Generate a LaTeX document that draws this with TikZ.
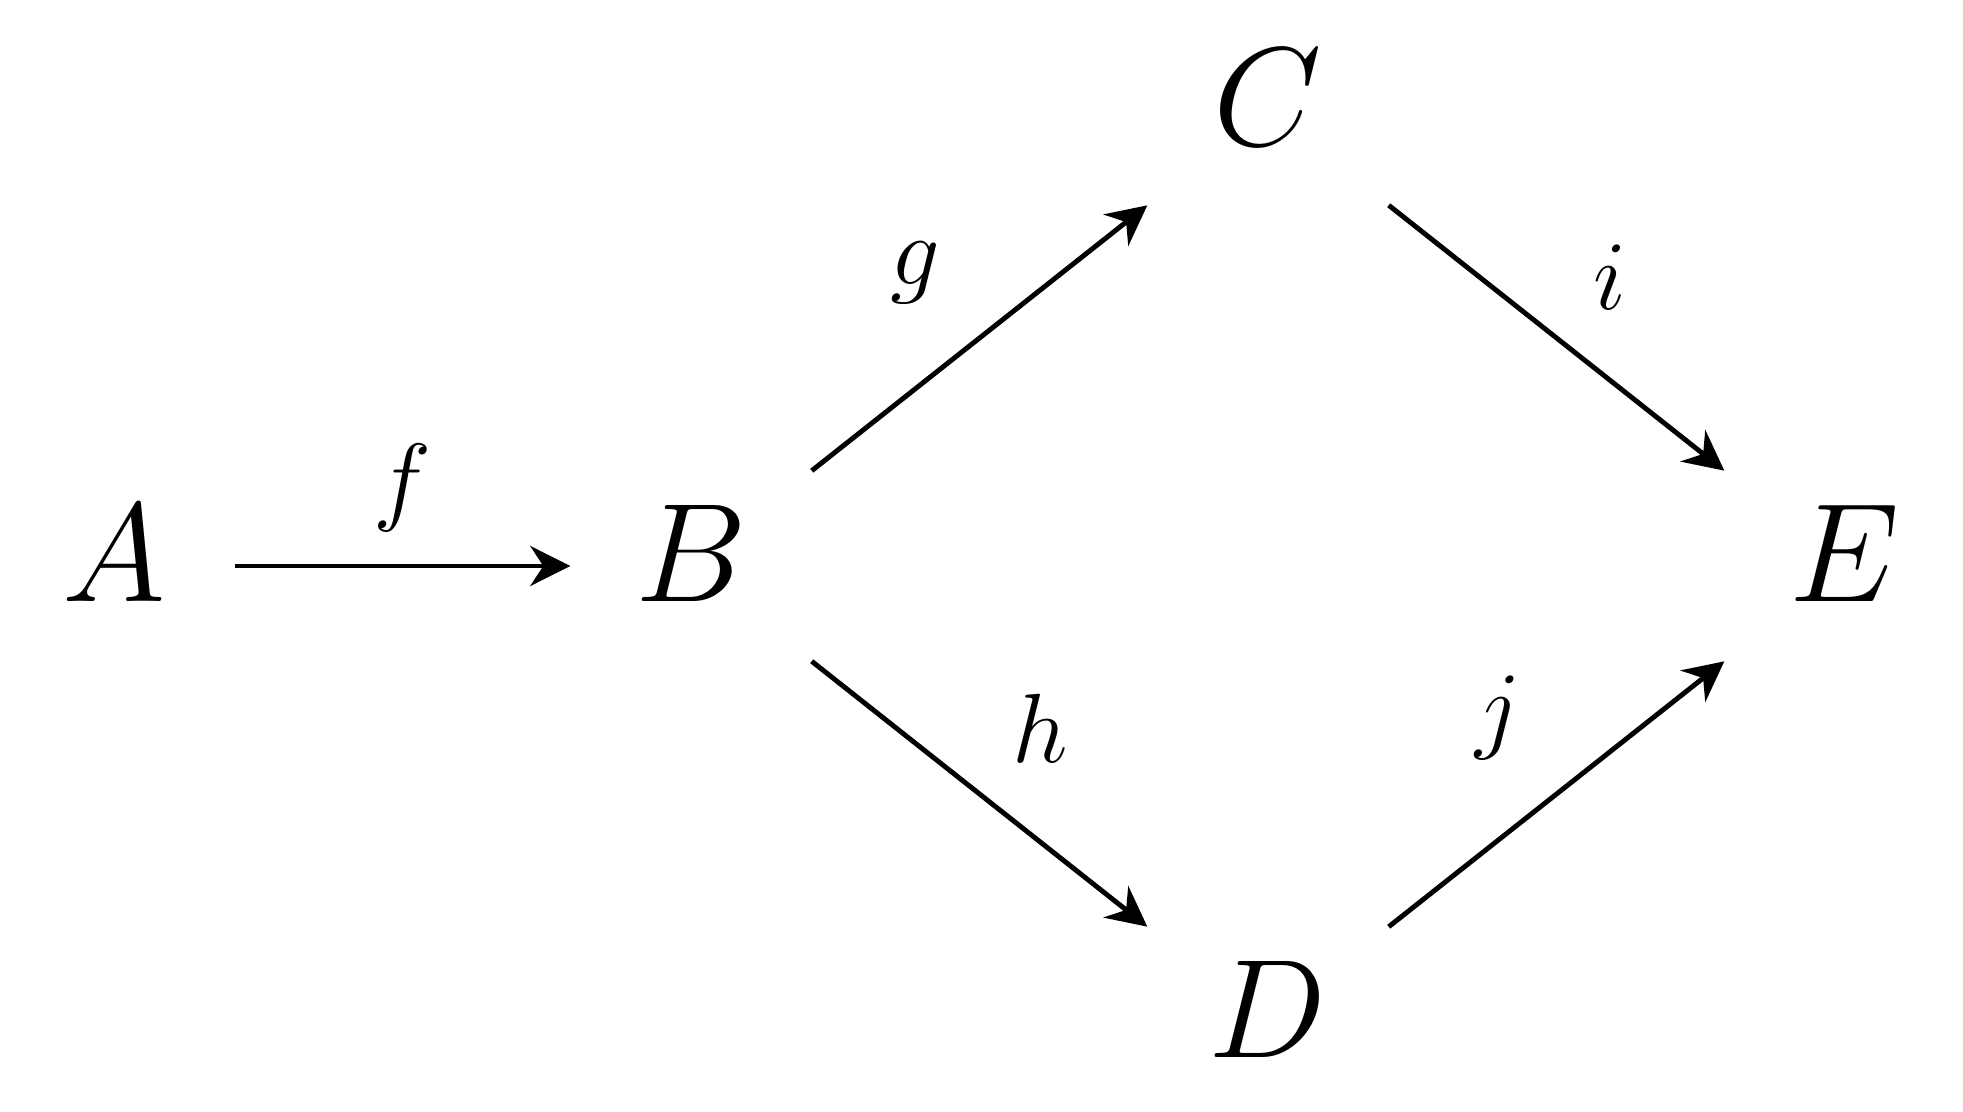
\RequirePackage{fix-cm}
\documentclass[tikz,border=0pt]{standalone}
\usetikzlibrary{matrix}
\usetikzlibrary{arrows.meta}

\begin{document}
\begin{tikzpicture}[
  >={Stealth[length=4mm, width=4mm]},
  map/.style={->, line width=1.4pt},
  lbl/.style={font=\fontsize{28}{34}\selectfont, inner sep=0pt}
]

  \useasboundingbox (0,0) rectangle (19.63,11.11);

  \matrix (grid) [matrix of math nodes, column sep=3.37cm, row sep=2.46cm,
    nodes={inner sep=0pt, minimum width=2.4cm, text height=1.4cm, text depth=0.7cm,
      font=\fontsize{40}{48}\selectfont}] at (9.795,5.45)
  {
      &          & C &   \\
    A &[-0.06cm] B &[0.04cm] & E \\
      &          & D &   \\
  };

  % maps
  \draw[map] (grid-2-1) to node[lbl, shift={(0,0.78)}] {$f$} (grid-2-2);
  \draw[map] (grid-2-2) to node[lbl, shift={(-0.64,0.65)}] {$g$} (grid-1-3);
  \draw[map] (grid-2-2) to node[lbl, shift={(0.61,0.66)}] {$h$} (grid-3-3);
  \draw[map] (grid-1-3) to node[lbl, shift={(0.53,0.61)}] {$i$} (grid-2-4);
  \draw[map] (grid-3-3) to node[lbl, shift={(-0.58,0.76)}] {$j$} (grid-2-4);

\end{tikzpicture}
\end{document}
